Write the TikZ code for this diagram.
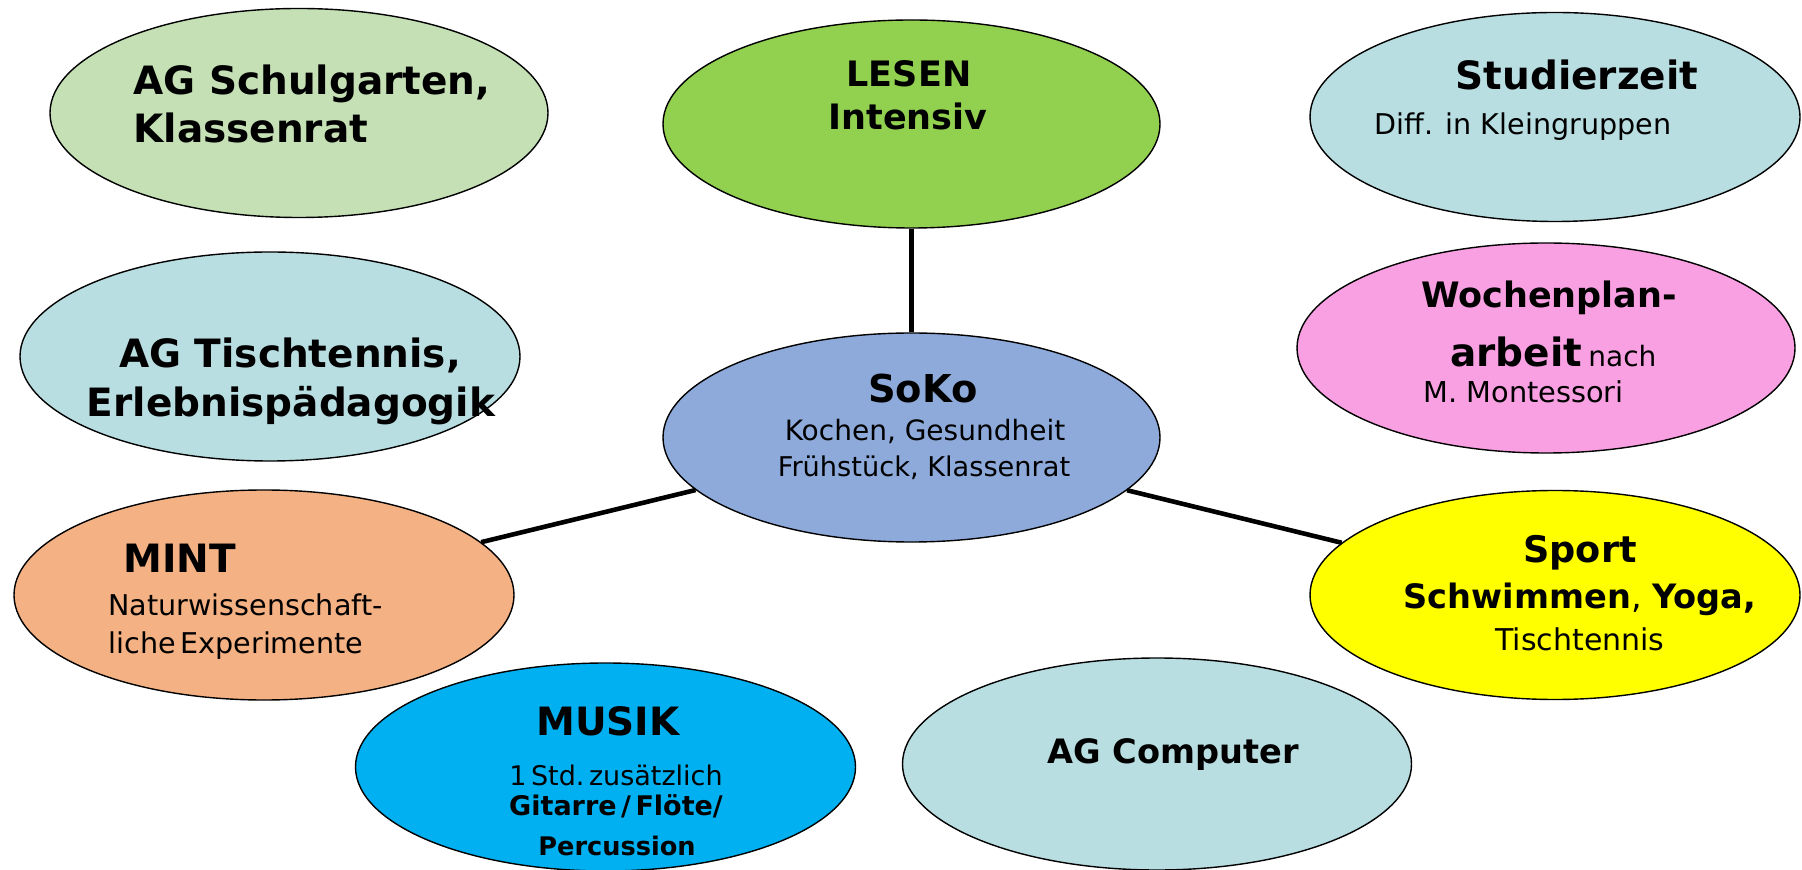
\documentclass[tikz,border=0pt]{standalone}
\usepackage{fontspec}
\setmainfont{DejaVu Sans}
\usetikzlibrary{shapes.geometric}
\definecolor{cschul}{HTML}{C5E0B4}
\definecolor{clesen}{HTML}{92D050}
\definecolor{clblue}{HTML}{B8DEE2}
\definecolor{cwochen}{HTML}{F9A0E3}
\definecolor{csoko}{HTML}{8EAADB}
\definecolor{cmint}{HTML}{F4B183}
\definecolor{cmusik}{HTML}{00B0F0}
\definecolor{csport}{HTML}{FFFF00}
\newcommand{\fs}[1]{\fontsize{#1}{#1}\selectfont}
\tikzset{
  blob/.style={ellipse, draw=black, line width=0.7pt, inner sep=0pt},
  txt/.style={inner sep=0pt, anchor=base},
  txtl/.style={inner sep=0pt, anchor=base west},
  conn/.style={line width=2.3pt, black},
}
\begin{document}
\begin{tikzpicture}[x=0.5pt,y=-0.5pt]
\useasboundingbox (0,0) rectangle (1802,870);
% ellipses
\node[blob, fill=cschul, minimum width=249pt, minimum height=104.5pt] (schul) at (299,113) {};
\node[blob, fill=clesen, minimum width=248.5pt, minimum height=104pt] (lesen) at (911.5,124) {};
\node[blob, fill=clblue, minimum width=245pt, minimum height=104.5pt] (studier) at (1555,117) {};
\node[blob, fill=clblue, minimum width=250pt, minimum height=104.5pt] (tisch) at (270,356.5) {};
\node[blob, fill=cwochen, minimum width=249pt, minimum height=105pt] (wochen) at (1546,348) {};
\node[blob, fill=csoko, minimum width=248.5pt, minimum height=104.5pt] (soko) at (911.5,437.5) {};
\node[blob, fill=cmint, minimum width=250pt, minimum height=105pt] (mint) at (264,595) {};
\node[blob, fill=cmusik, minimum width=250pt, minimum height=104pt] (musik) at (605.5,767) {};
\node[blob, fill=csport, minimum width=245pt, minimum height=104.5pt] (sport) at (1555,595) {};
\node[blob, fill=clblue, minimum width=254.5pt, minimum height=106pt] (computer) at (1157,764) {};
% connectors
\draw[conn] (soko) -- (lesen);
\draw[conn] (soko) -- (mint);
\draw[conn] (soko) -- (sport);
% texts
\node[txtl] (t1a) at (133,95) {\fs{19.5}\bfseries AG Schulgarten,};
\node[txtl] (t1b) at (133,143) {\fs{19.5}\bfseries Klassenrat};
\node[txt] (t2a) at (909,87) {\fs{17.5}\bfseries LESEN};
\node[txt] (t2b) at (908,130) {\fs{17.5}\bfseries Intensiv};
\node[txt] (t3a) at (1577,90) {\fs{19.5}\bfseries Studierzeit};
\node[txt] (t3b) at (1523,135) {\fs{14.3}Diff. in Kleingruppen};
\node[txt] (t4a) at (290,368) {\fs{19.5}\bfseries AG Tischtennis,};
\node[txt] (t4b) at (291,417) {\fs{19.5}\bfseries Erlebnispädagogik};
\node[txt] (t5a) at (1549,308) {\fs{17.5}\bfseries Wochenplan-};
\node[txtl] (t5b) at (1450,367) {\fs{19.5}\bfseries arbeit};
\node[txtl] (t5c) at (1588,367) {\fs{14}nach};
\node[txtl] (t5d) at (1423,403) {\fs{14.4}M. Montessori};
\node[txt] (t6a) at (923,403) {\fs{19.2}\bfseries SoKo};
\node[txt] (t6b) at (925,441) {\fs{14}Kochen, Gesundheit};
\node[txt] (t6c) at (924,477) {\fs{13.6}Frühstück, Klassenrat};
\node[txtl] (t7a) at (123,573) {\fs{19.5}\bfseries MINT};
\node[txtl] (t7b) at (108,615) {\fs{14.3}Naturwissenschaft-};
\node[txtl] (t7c) at (108,653) {\fs{14.3}liche\,Experimente};
\node[txt] (t8a) at (608,735) {\fs{19.5}\bfseries MUSIK};
\node[txt] (t8b) at (616,785) {\fs{13.5}1\,Std.\,zusätzlich};
\node[txt] (t8c) at (616,815) {\fs{13.5}\bfseries Gitarre\,/\,Flöte/};
\node[txt] (t8d) at (617,855) {\fs{12.8}\bfseries Percussion};
\node[txt] (t9a) at (1580,563) {\fs{18.3}\bfseries Sport};
\node[txt] (t9b) at (1580,609) {\fs{16.8}\textbf{Schwimmen}, \textbf{Yoga,}};
\node[txt] (t9c) at (1580,650) {\fs{15}Tischtennis};
\node[txt] (t10) at (1173,763) {\fs{16.8}\bfseries AG Computer};
\end{tikzpicture}
\end{document}
